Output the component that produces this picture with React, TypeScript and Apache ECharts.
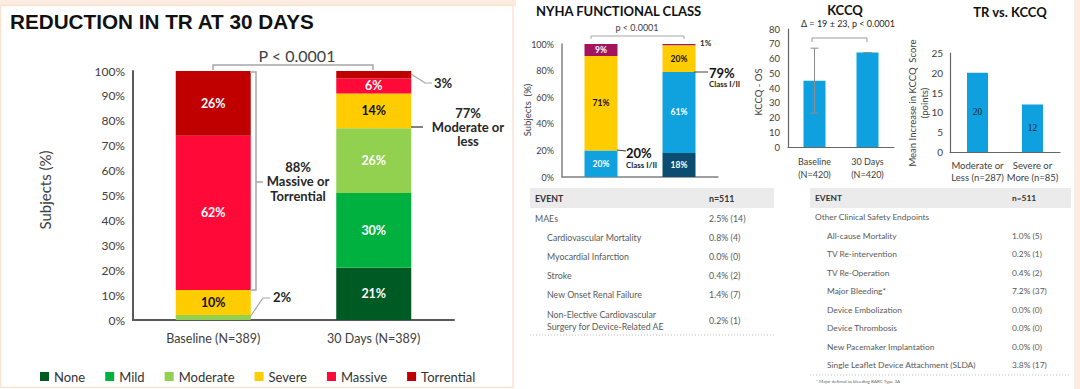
import React, { useEffect, useRef } from "react";
import * as echarts from "echarts";

// ---------- data ----------
const trCategories = ["Baseline (N=389)", "30 Days (N=389)"];
const trLevels = ["None", "Mild", "Moderate", "Severe", "Massive", "Torrential"];
const noneVals = [0, 21];
const mildVals = [0, 30];
const moderateVals = [2, 26];
const severeVals = [10, 14];
const massiveVals = [62, 6];
const torrentialVals = [26, 3];

const nyhaCategories = ["Baseline", "30 Days"];
const nyhaClassI = [0, 18];
const nyhaClassII = [20, 61];
const nyhaClassIII = [71, 20];
const nyhaClassIV = [9, 1];

const kccqCategories = ["Baseline\n(N=420)", "30 Days\n(N=420)"];
const kccqMeans = [45, 64];
const kccqLow = [23, 64];
const kccqHigh = [67, 64];

const trKccqCategories = ["Moderate or\nLess (n=287)", "Severe or\nMore (n=85)"];
const trKccqVals = [20, 12];

const leftEvents = [
  "MAEs",
  "Cardiovascular Mortality",
  "Myocardial Infarction",
  "Stroke",
  "New Onset Renal Failure",
  "Non-Elective Cardiovascular\nSurgery for Device-Related AE",
];
const leftEventVals = ["2.5% (14)", "0.8% (4)", "0.0% (0)", "0.4% (2)", "1.4% (7)", "0.2% (1)"];
const leftIndent = [0, 1, 1, 1, 1, 1];

const rightEvents = [
  "Other Clinical Safety Endpoints",
  "All-cause Mortality",
  "TV Re-intervention",
  "TV Re-Operation",
  "Major Bleeding*",
  "Device Embolization",
  "Device Thrombosis",
  "New Pacemaker Implantation",
  "Single Leaflet Device Attachment (SLDA)",
];
const rightEventVals = ["", "1.0% (5)", "0.2% (1)", "0.4% (2)", "7.2% (37)", "0.0% (0)", "0.0% (0)", "0.0% (0)", "3.8% (17)"];
const rightIndent = [0, 1, 1, 1, 1, 1, 1, 1, 1];

// ---------- styles ----------
const F = "Lato, 'Open Sans', sans-serif";
const trColors = ["#005a23", "#00b140", "#92d050", "#ffcc00", "#ff0a38", "#c00000"];
const trLabelColors = ["#fff", "#fff", "#fff", "#111", "#fff", "#fff"];
const nyhaColors = ["#0b4d70", "#10a2de", "#ffcc00", "#a3145e"];
const nyhaLabelColors = ["#fff", "#fff", "#111", "#fff"];
const kBlue = "#0ea0df";

function txt(x: number, y: number, text: string, font: string, fill = "#262626", align = "left", extra: any = {}) {
  return {
    type: "text",
    x,
    y,
    z: 10,
    ...extra,
    style: {
      text,
      font,
      fill,
      textAlign: align,
      textVerticalAlign: "middle",
      align,
      verticalAlign: "middle",
      lineHeight: extra.lineHeight,
    },
  };
}
function pl(points: number[][], stroke = "#a6a6a6", lineWidth = 1.5, extra: any = {}) {
  return { type: "polyline", z: 10, shape: { points }, style: { stroke, lineWidth, fill: "none", ...extra } };
}

export default function App() {
  const ref = useRef<HTMLDivElement>(null);
  useEffect(() => {
    if (!ref.current) return;
    const chart = echarts.init(ref.current, undefined, { renderer: "svg" });

    const trData = [noneVals, mildVals, moderateVals, severeVals, massiveVals, torrentialVals];
    const trSeries = trLevels.map((name, i) => ({
      type: "bar",
      name,
      stack: "tr",
      xAxisIndex: 0,
      yAxisIndex: 0,
      barWidth: 75,
      data: trData[i],
      itemStyle: { color: trColors[i] },
      label: {
        show: true,
        position: "inside",
        formatter: (p: any) => (p.value >= 5 ? p.value + "%" : ""),
        color: trLabelColors[i],
        fontWeight: "bold",
        fontSize: 12.5,
        fontFamily: F,
      },
    }));

    const nyhaData = [nyhaClassI, nyhaClassII, nyhaClassIII, nyhaClassIV];
    const nyhaSeries = ["Class I", "Class II", "Class III", "Class IV"].map((name, i) => ({
      type: "bar",
      name,
      stack: "nyha",
      xAxisIndex: 1,
      yAxisIndex: 1,
      barWidth: 33,
      data: nyhaData[i],
      itemStyle: { color: nyhaColors[i] },
      label: {
        show: true,
        position: "inside",
        formatter: (p: any) => (p.value >= 5 ? p.value + "%" : ""),
        color: nyhaLabelColors[i],
        fontWeight: "bold",
        fontSize: 8.5,
        fontFamily: F,
      },
    }));

    const valAxis = (gridIndex: number, min: number, max: number, interval: number, fmt: string, fontSize: number, lineColor: string, lw: number, margin = 8) => ({
      type: "value",
      gridIndex,
      min,
      max,
      interval,
      splitLine: { show: false },
      axisTick: { show: false },
      axisLine: { show: true, lineStyle: { color: lineColor, width: lw } },
      axisLabel: { formatter: fmt, fontSize, color: "#404040", fontFamily: F, margin },
    });

    const catAxis = (gridIndex: number, data: string[], lineColor: string, lw: number, label: any) => ({
      type: "category",
      gridIndex,
      data,
      axisTick: { show: false },
      axisLine: { show: true, lineStyle: { color: lineColor, width: lw } },
      axisLabel: { color: "#404040", fontFamily: F, interval: 0, ...label },
    });

    const graphics: any[] = [];
    // panel frames
    graphics.push({ type: "rect", z: 0, shape: { x: 0, y: 0, width: 516, height: 6 }, style: { fill: "#fcebe0" } });
    graphics.push({ type: "rect", z: 0, shape: { x: 0.5, y: 5.5, width: 512.5, height: 382 }, style: { fill: "none", stroke: "#fbe3d3", lineWidth: 1.5 } });
    graphics.push({ type: "rect", z: 0, shape: { x: 1074, y: 0, width: 6, height: 389 }, style: { fill: "#fcede4" } });

    // left chart titles & annotations
    graphics.push(txt(10, 21, "REDUCTION IN TR AT 30 DAYS", "bold 20.7px 'Liberation Sans', Arial, sans-serif", "#111"));
    graphics.push(txt(297, 55, "P < 0.0001", `16px ${F}`, "#404040", "center"));
    graphics.push(pl([[213, 70], [213, 65], [373, 65], [373, 70]], "#a6a6a6", 1.5));
    graphics.push(txt(45, 190, "Subjects (%)", `15px ${F}`, "#404040", "center", { rotation: Math.PI / 2 }));
    // 88% bracket
    graphics.push(pl([[250, 72], [256, 72], [256, 290], [250, 290]], "#a6a6a6", 1.5));
    graphics.push(pl([[256, 182], [263, 182]], "#a6a6a6", 1.5));
    graphics.push(txt(298, 181, "88%\nMassive or\nTorrential", `bold 13px ${F}`, "#262626", "center", { lineHeight: 14.5 }));
    // 2%
    graphics.push(pl([[250, 317], [263, 298], [270, 298]], "#a6a6a6", 1.2));
    graphics.push(txt(273, 297, "2%", `bold 13px ${F}`, "#262626"));
    // 3%
    graphics.push(pl([[411, 74], [425, 83], [432, 83]], "#a6a6a6", 1.2));
    graphics.push(txt(434, 83, "3%", `bold 13px ${F}`, "#262626"));
    // 77%
    graphics.push(pl([[411, 127], [423, 127]], "#595959", 1.5));
    graphics.push(txt(468, 127, "77%\nModerate or\nless", `bold 13px ${F}`, "#262626", "center", { lineHeight: 14 }));

    // NYHA
    graphics.push(txt(536, 11, "NYHA FUNCTIONAL CLASS", `bold 13px ${F}`, "#111"));
    graphics.push(txt(637, 27, "p < 0.0001", `9px ${F}`, "#404040", "center"));
    graphics.push(pl([[591, 39], [591, 36], [684, 36], [684, 39]], "#a6a6a6", 1));
    graphics.push(txt(527, 110, "Subjects  (%)", `9.5px ${F}`, "#404040", "center", { rotation: Math.PI / 2 }));
    graphics.push(txt(700, 43, "1%", `bold 8px ${F}`, "#262626"));
    graphics.push(pl([[694, 72], [708, 72]], "#404040", 1));
    graphics.push(txt(709, 73, "79%", `bold 13px ${F}`, "#111"));
    graphics.push(txt(709, 84, "Class I/II", `bold 8px ${F}`, "#262626"));
    graphics.push(pl([[617, 150], [626, 151]], "#404040", 1));
    graphics.push(txt(626, 153, "20%", `bold 13px ${F}`, "#111"));
    graphics.push(txt(626, 165, "Class I/II", `bold 8px ${F}`, "#262626"));

    // KCCQ
    graphics.push(txt(845, 10, "KCCQ", `bold 13px ${F}`, "#111", "center"));
    graphics.push(txt(848, 23, "\u0394 = 19 \u00b1 23, p < 0.0001", `9px ${F}`, "#262626", "center"));
    graphics.push(pl([[812, 42], [812, 38], [867, 38], [867, 42]], "#999", 1));
    graphics.push(txt(758, 92, "KCCQ - OS", `9.5px ${F}`, "#404040", "center", { rotation: Math.PI / 2 }));

    // TR vs KCCQ
    graphics.push(txt(1010, 12, "TR vs. KCCQ", `bold 13px ${F}`, "#111", "center"));
    graphics.push(txt(912, 103, "Mean Increase in KCCQ  Score", `9.5px ${F}`, "#404040", "center", { rotation: Math.PI / 2 }));
    graphics.push(txt(924, 103, "(points)", `9.5px ${F}`, "#404040", "center", { rotation: Math.PI / 2 }));

    // tables
    const tableBlock = (x0: number, x1: number, valX: number, names: string[], vals: string[], indent: number[], startY: number, step: number, dotY: number, fs: number) => {
      graphics.push({ type: "rect", z: 1, shape: { x: x0, y: 188, width: x1 - x0, height: 20 }, style: { fill: "#ebebeb" } });
      graphics.push(txt(x0 + 5, 198, "EVENT", `bold ${fs}px ${F}`, "#333"));
      graphics.push(txt(valX, 198, "n=511", `bold ${fs}px ${F}`, "#333"));
      let y = startY;
      names.forEach((n, i) => {
        const lines = n.split("\n").length;
        const cy = y + (lines - 1) * 6;
        graphics.push(txt(x0 + 5 + indent[i] * 12, cy, n, `${fs}px ${F}`, "#595959", "left", { lineHeight: 12 }));
        if (vals[i]) graphics.push(txt(valX, cy, vals[i], `${fs}px ${F}`, "#595959"));
        y += step + (lines - 1) * 12;
      });
      graphics.push({ type: "line", z: 1, shape: { x1: x0, y1: dotY, x2: x1, y2: dotY }, style: { stroke: "#bfbfbf", lineWidth: 1, lineDash: [1, 2] } });
    };
    tableBlock(530, 774, 709, leftEvents, leftEventVals, leftIndent, 218, 19.2, 335, 8.8);
    tableBlock(810, 1071, 1012, rightEvents, rightEventVals, rightIndent, 217, 18.5, 375, 8.4);
    graphics.push(txt(816, 381, "* Major defined as bleeding BARC Type 3A", `4.5px ${F}`, "#666"));

    chart.setOption({
      animation: false,
      backgroundColor: "#ffffff",
      textStyle: { fontFamily: F },
      legend: {
        data: trLevels,
        left: 35,
        top: 365,
        icon: "rect",
        itemWidth: 9,
        itemHeight: 9,
        itemGap: 20,
        textStyle: { fontSize: 13, color: "#333", fontFamily: F },
        selectedMode: false,
      },
      grid: [
        { left: 133, top: 71, width: 321, height: 249 },
        { left: 562, top: 44, width: 156, height: 133 },
        { left: 788, top: 29, width: 106, height: 118 },
        { left: 950, top: 53, width: 110, height: 99 },
      ],
      xAxis: [
        catAxis(0, trCategories, "#595959", 2, { fontSize: 12.5, margin: 12 }),
        catAxis(1, nyhaCategories, "#808080", 1.5, { show: false }),
        catAxis(2, kccqCategories, "#666", 1.2, { fontSize: 9, lineHeight: 13, margin: 8 }),
        catAxis(3, trKccqCategories, "#666", 1.2, { fontSize: 9.5, lineHeight: 12, margin: 7 }),
      ],
      yAxis: [
        valAxis(0, 0, 100, 10, "{value}%", 12, "#595959", 2),
        valAxis(1, 0, 100, 20, "{value}%", 9, "#808080", 1.5),
        valAxis(2, 0, 80, 10, "{value}", 9.5, "#666", 1.2),
        valAxis(3, 0, 25, 5, "{value}", 10, "#666", 1.2, 7),
      ],
      series: [
        ...trSeries,
        ...nyhaSeries,
        {
          type: "bar",
          name: "KCCQ",
          xAxisIndex: 2,
          yAxisIndex: 2,
          barWidth: 22,
          data: kccqMeans,
          itemStyle: { color: kBlue },
        },
        {
          type: "custom",
          name: "KCCQ SD",
          xAxisIndex: 2,
          yAxisIndex: 2,
          z: 5,
          data: kccqLow.map((l, i) => [i, l, kccqHigh[i]]),
          encode: { x: 0, y: [1, 2] },
          renderItem: (params: any, api: any) => {
            const x = api.value(0);
            const lo = api.coord([x, api.value(1)]);
            const hi = api.coord([x, api.value(2)]);
            const st = { stroke: "#8c8c8c", lineWidth: 1 };
            return {
              type: "group",
              children: [
                { type: "line", shape: { x1: lo[0], y1: lo[1], x2: hi[0], y2: hi[1] }, style: st },
                { type: "line", shape: { x1: lo[0] - 4, y1: lo[1], x2: lo[0] + 4, y2: lo[1] }, style: st },
                { type: "line", shape: { x1: hi[0] - 4, y1: hi[1], x2: hi[0] + 4, y2: hi[1] }, style: st },
              ],
            };
          },
        },
        {
          type: "bar",
          name: "TR vs KCCQ",
          xAxisIndex: 3,
          yAxisIndex: 3,
          barWidth: 21,
          data: trKccqVals,
          itemStyle: { color: kBlue },
          label: {
            show: true,
            position: "inside",
            color: "#222",
            fontSize: 9.5,
            fontFamily: "'Liberation Serif', 'DejaVu Serif', serif",
          },
        },
      ],
      graphic: { elements: graphics },
    });

    return () => chart.dispose();
  }, []);

  return <div ref={ref} style={{ position: "absolute", left: 0, top: 0, width: 1080, height: 389 }} />;
}
